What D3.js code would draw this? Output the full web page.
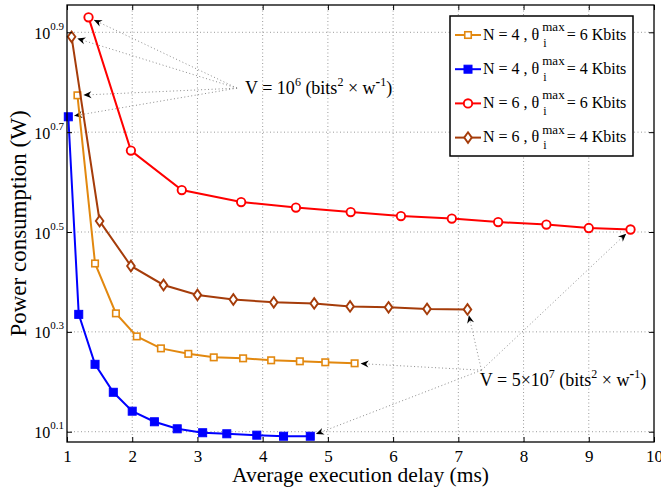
<!DOCTYPE html>
<html>
<head>
<meta charset="utf-8">
<script src="https://cdn.jsdelivr.net/npm/d3@7"></script>
<style>
  body { margin: 0; background: white; }
  svg text { font-family: "Liberation Serif", "Times New Roman", serif; }
</style>
</head>
<body>
<svg id="chart" width="661" height="490"></svg>
<script>
const width = 661
const height = 490
const POLICE = 'Liberation Serif'
const marge = { haut: 5, droite: 7, bas: 48, gauche: 67 }

// Données (délai en ms, puissance en W)
const delaiN4K6 = [1.16, 1.43, 1.75, 2.07, 2.44, 2.86, 3.25, 3.70, 4.13, 4.57, 4.96, 5.41]
const puissanceN4K6 = [5.94, 2.735, 2.173, 1.954, 1.849, 1.803, 1.774, 1.766, 1.750, 1.742, 1.734, 1.726]

const delaiN4K4 = [1.02, 1.18, 1.43, 1.71, 2.00, 2.34, 2.69, 3.08, 3.45, 3.91, 4.32, 4.73]
const puissanceN4K4 = [5.38, 2.163, 1.718, 1.510, 1.384, 1.318, 1.276, 1.253, 1.247, 1.239, 1.233, 1.233]

const delaiN6K6 = [1.33, 1.98, 2.76, 3.67, 4.51, 5.35, 6.12, 6.90, 7.61, 8.35, 9.00, 9.64]
const puissanceN6K6 = [8.51, 4.603, 3.837, 3.631, 3.540, 3.467, 3.404, 3.365, 3.311, 3.273, 3.221, 3.199]

const delaiN6K4 = [1.07, 1.50, 1.98, 2.48, 3.00, 3.55, 4.17, 4.79, 5.34, 5.93, 6.52, 7.14]
const puissanceN6K4 = [7.78, 3.327, 2.704, 2.477, 2.366, 2.317, 2.286, 2.275, 2.244, 2.234, 2.218, 2.213]

// Légende
const legendeN = ['4', '4', '6', '6']
const legendeTheta = ['6', '4', '6', '4']

// Axes
const ticksX = [1, 2, 3, 4, 5, 6, 7, 8, 9, 10]
const exposantsY = ['0.1', '0.3', '0.5', '0.7', '0.9']
const domaineX = [1, 10]
const domaineY = [Math.pow(10, 0.0794), Math.pow(10, 0.9547)]

// Annotations (point de convergence et début du texte, en unités des données)
const annot1 = { x: 3.607, y: 6.14, texteX: 3.73, texteY: 5.97 }
const annot2 = { x: 7.355, y: 1.672, texteX: 7.33, texteY: 1.552 }

const series = [
    { delai: delaiN4K6, puissance: puissanceN4K6, couleur: '#e2880f', symbole: 'carre', plein: false },
    { delai: delaiN4K4, puissance: puissanceN4K4, couleur: '#0000ff', symbole: 'carre', plein: true },
    { delai: delaiN6K6, puissance: puissanceN6K6, couleur: '#ff0000', symbole: 'cercle', plein: false },
    { delai: delaiN6K4, puissance: puissanceN6K4, couleur: '#a53c0a', symbole: 'losange', plein: false }
]

const svg = d3.select('#chart')

const x = d3.scaleLinear().domain(domaineX).range([marge.gauche, width - marge.droite])
const y = d3.scaleLog().domain(domaineY).range([height - marge.bas, marge.haut])
const valeursY = exposantsY.map(e => Math.pow(10, +e))

//Flèche pour les annotations
svg.append('defs').append('marker').attr('id', 'fleche')
    .attr('markerUnits', 'userSpaceOnUse').attr('markerWidth', 12).attr('markerHeight', 12)
    .attr('viewBox', '-10 -5 12 10').attr('refX', 0).attr('refY', 0).attr('orient', 'auto')
    .append('path').attr('d', 'M0,0 L-8,-3.5 L-5.5,0 L-8,3.5 Z').attr('fill', 'black')

//Grille pointillée
const grille = svg.append('g').attr('class', 'grille')
    .attr('stroke', '#9a9a9a').attr('stroke-width', 1).attr('stroke-dasharray', '1,2.5')
grille.selectAll('.gx').data(ticksX.slice(1, -1)).enter().append('line')
    .attr('x1', d => x(d)).attr('x2', d => x(d)).attr('y1', y.range()[0]).attr('y2', y.range()[1])
grille.selectAll('.gy').data(valeursY).enter().append('line')
    .attr('y1', d => y(d)).attr('y2', d => y(d)).attr('x1', x.range()[0]).attr('x2', x.range()[1])

//Lignes d'annotation
function placeAnnotation(a, cibles) {
    const cx = x(a.x), cy = y(a.y)
    cibles.forEach(([px, py]) => {
        const dx = cx - px, dy = cy - py
        const l = Math.sqrt(dx * dx + dy * dy)
        const bx = px + dx / l * 6, by = py + dy / l * 6
        svg.append('line').attr('x1', cx).attr('y1', cy).attr('x2', bx).attr('y2', by)
            .attr('stroke', '#8c8c8c').attr('stroke-width', 1).attr('stroke-dasharray', '1,2.5')
            .attr('marker-end', 'url(#fleche)')
    })
}
placeAnnotation(annot1, series.map(s => [x(s.delai[0]), y(s.puissance[0])]))
placeAnnotation(annot2, series.map(s => [x(s.delai[s.delai.length - 1]), y(s.puissance[s.puissance.length - 1])]))

//Symboles
function dessineSymbole(g, s) {
    if (s.symbole == 'carre') {
        const c = s.plein ? 8 : 6.5
        g.append('rect').attr('x', -c / 2).attr('y', -c / 2).attr('width', c).attr('height', c)
            .attr('fill', s.plein ? s.couleur : 'white').attr('stroke', s.couleur).attr('stroke-width', s.plein ? 1 : 1.6)
    } else if (s.symbole == 'cercle') {
        g.append('circle').attr('r', 4.2).attr('fill', 'white').attr('stroke', s.couleur).attr('stroke-width', 1.9)
    } else {
        g.append('path').attr('d', 'M0,-5.3 L3.8,0 L0,5.3 L-3.8,0 Z')
            .attr('fill', 'white').attr('stroke', s.couleur).attr('stroke-width', 1.9)
    }
}

//Courbes
const ligne = d3.line().x(d => x(d[0])).y(d => y(d[1]))
series.forEach(s => {
    const points = s.delai.map((d, i) => [d, s.puissance[i]])
    svg.append('path').datum(points).attr('d', ligne).attr('fill', 'none')
        .attr('stroke', s.couleur).attr('stroke-width', 2)
    points.forEach(p => {
        const g = svg.append('g').attr('transform', 'translate(' + x(p[0]) + ',' + y(p[1]) + ')')
        dessineSymbole(g, s)
    })
})

//Cadre et graduations vers l'intérieur
svg.append('rect').attr('x', x.range()[0]).attr('y', y.range()[1])
    .attr('width', x.range()[1] - x.range()[0]).attr('height', y.range()[0] - y.range()[1])
    .attr('fill', 'none').attr('stroke', 'black').attr('stroke-width', 1.3)

const axeBas = svg.append('g').attr('transform', 'translate(0,' + y.range()[0] + ')')
    .call(d3.axisBottom(x).tickValues(ticksX).tickSize(-5).tickFormat(d3.format('d')))
axeBas.select('.domain').remove()
axeBas.selectAll('text').attr('y', 20).attr('dy', 0).style('font-family', POLICE).style('font-size', '17px').attr('fill', 'black')

const axeHaut = svg.append('g').attr('transform', 'translate(0,' + y.range()[1] + ')')
    .call(d3.axisTop(x).tickValues(ticksX).tickSize(-5).tickFormat(''))
axeHaut.select('.domain').remove()

const axeGauche = svg.append('g').attr('transform', 'translate(' + x.range()[0] + ',0)')
    .call(d3.axisLeft(y).tickValues(valeursY).tickSize(-5).tickFormat(''))
axeGauche.select('.domain').remove()
axeGauche.selectAll('.tick').each(function (d, i) {
    const t = d3.select(this).append('text').attr('x', -3).attr('y', 6)
        .attr('text-anchor', 'end').style('font-family', POLICE).attr('fill', 'black')
    t.append('tspan').text('10').style('font-size', '16px')
    t.append('tspan').text(exposantsY[i]).style('font-size', '11px').attr('dy', -9)
})

const axeDroit = svg.append('g').attr('transform', 'translate(' + x.range()[1] + ',0)')
    .call(d3.axisRight(y).tickValues(valeursY).tickSize(-5).tickFormat(''))
axeDroit.select('.domain').remove()
svg.selectAll('.tick line').attr('stroke', 'black').attr('stroke-width', 1)

//Titres des axes
svg.append('text').text('Average execution delay (ms)').style('font-family', POLICE).style('font-size', '21.5px')
    .attr('text-anchor', 'middle').attr('x', (x.range()[0] + x.range()[1]) / 2).attr('y', 482)
svg.append('text').text('Power consumption (W)').style('font-family', POLICE).style('font-size', '23px')
    .attr('text-anchor', 'middle')
    .attr('transform', 'translate(26,' + (y.range()[0] + y.range()[1]) / 2 + ') rotate(-90)')

//Textes des annotations
function texteAnnotation(a, debut) {
    const t = svg.append('text').attr('x', x(a.texteX)).attr('y', y(a.texteY))
        .style('font-family', POLICE).style('font-size', '18px').attr('fill', 'black')
    t.append('tspan').text(debut[0])
    t.append('tspan').text(debut[1]).style('font-size', '12px').attr('dy', -8)
    t.append('tspan').text(' (bits').attr('dy', 8)
    t.append('tspan').text('2').style('font-size', '12px').attr('dy', -8)
    t.append('tspan').text(' \u00d7 w').attr('dy', 8)
    t.append('tspan').text('-').style('font-size', '14px').style('font-weight', 'bold').attr('dy', -8)
    t.append('tspan').text('1').style('font-size', '12px')
    t.append('tspan').text(')').attr('dy', 8)
}
texteAnnotation(annot1, ['V = 10', '6'])
texteAnnotation(annot2, ['V = 5\u00d710', '7'])

//Légende
const legende = svg.append('g').attr('class', 'legende')
legende.append('rect').attr('x', 450).attr('y', 16).attr('width', 183).attr('height', 140)
    .attr('fill', 'white').attr('stroke', 'black').attr('stroke-width', 1.5)
series.forEach((s, i) => {
    const ly = 35 + i * 34.2
    legende.append('line').attr('x1', 455).attr('x2', 481).attr('y1', ly).attr('y2', ly)
        .attr('stroke', s.couleur).attr('stroke-width', 2)
    const g = legende.append('g').attr('transform', 'translate(468,' + ly + ')')
    dessineSymbole(g, s)
    const base = ly + 4.5
    const t1 = legende.append('text').text('N = ' + legendeN[i] + ' , \u03b8').attr('x', 483).attr('y', base)
        .style('font-family', POLICE).style('font-size', '16px')
    const x1 = 483 + t1.node().getComputedTextLength() + 3
    legende.append('text').text('i').attr('x', x1 + 1).attr('y', base + 7)
        .style('font-family', POLICE).style('font-size', '12px')
    const t2 = legende.append('text').text('max').attr('x', x1).attr('y', base - 8.5)
        .style('font-family', POLICE).style('font-size', '13px')
    const x2 = x1 + t2.node().getComputedTextLength() + 2
    legende.append('text').text('= ' + legendeTheta[i] + ' Kbits').attr('x', x2).attr('y', base)
        .style('font-family', POLICE).style('font-size', '16px')
})
</script>
</body>
</html>
